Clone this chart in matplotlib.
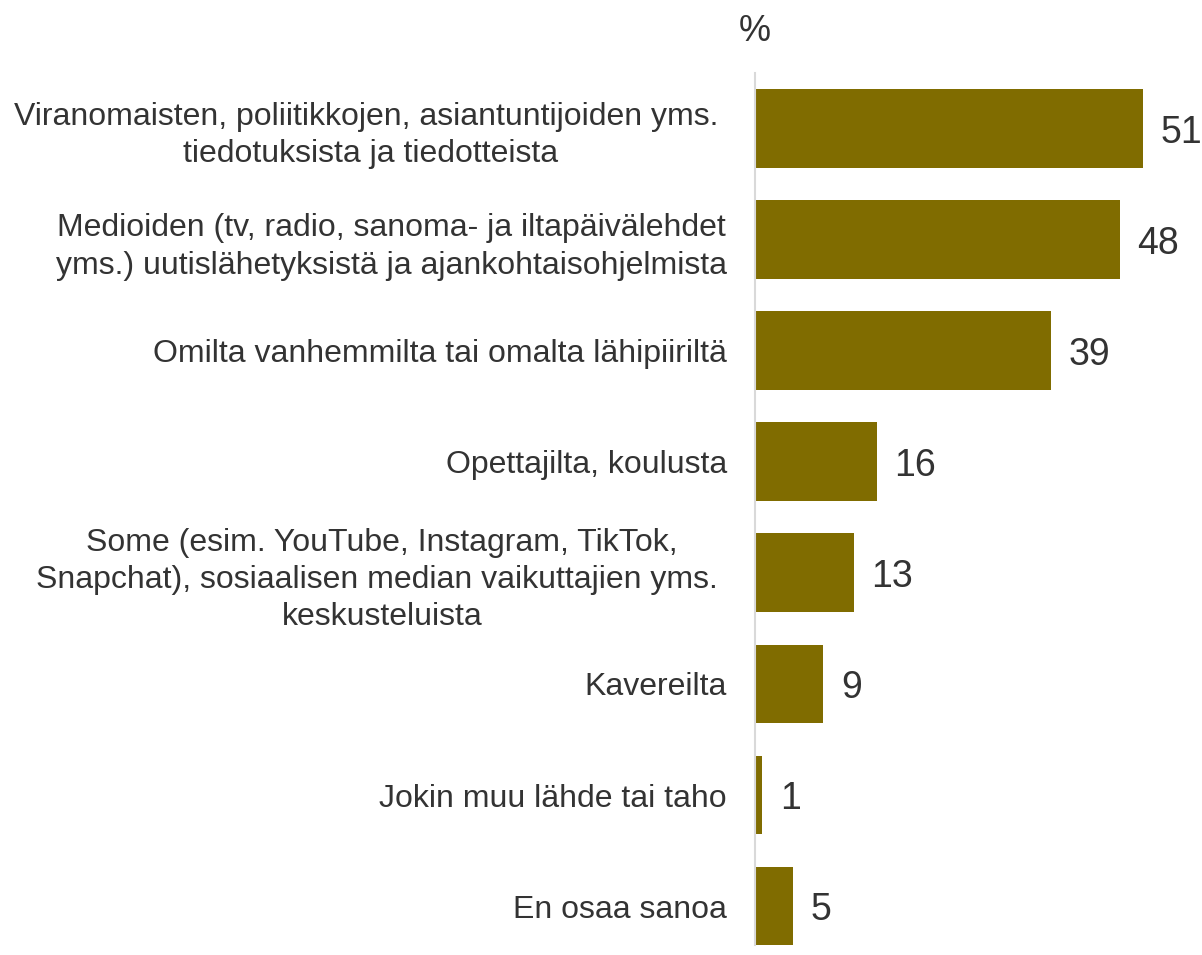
import matplotlib
matplotlib.use('Agg')
import matplotlib.pyplot as plt

# data
categories = [
    'Viranomaisten, poliitikkojen, asiantuntijoiden yms. \ntiedotuksista ja tiedotteista',
    'Medioiden (tv, radio, sanoma- ja iltapäivälehdet\nyms.) uutislähetyksistä ja ajankohtaisohjelmista',
    'Omilta vanhemmilta tai omalta lähipiiriltä',
    'Opettajilta, koulusta',
    'Some (esim. YouTube, Instagram, TikTok,\nSnapchat), sosiaalisen median vaikuttajien yms. \nkeskusteluista',
    'Kavereilta',
    'Jokin muu lähde tai taho',
    'En osaa sanoa',
]
values = [51, 48, 39, 16, 13, 9, 1, 5]

bar_color = '#806c00'
text_color = '#333333'

plt.rcParams['font.family'] = ['Liberation Sans', 'DejaVu Sans']

fig = plt.figure(figsize=(12.02, 9.55), dpi=100)
ax = fig.add_axes([0.628, 0.0105, 0.348, 0.913])

ypos = list(range(len(values)))
ax.barh(ypos, values, height=0.71, color=bar_color)

for y, v in zip(ypos, values):
    ax.text(v + 2.3, y, str(v), va='center_baseline', ha='left', fontsize=27, color=text_color)

ax.set_yticks(ypos)
ax.set_yticklabels(categories, fontsize=23, color=text_color)
for t in ax.get_yticklabels():
    t.set_multialignment('center')
    t.set_linespacing(1.32)
ax.tick_params(axis='y', length=0, pad=20)
ax.set_xticks([])
ax.set_xlim(0, 55)
ax.set_ylim(7.35, -0.5)

for side in ['top', 'right', 'bottom']:
    ax.spines[side].set_visible(False)
ax.spines['left'].set_color('#d9d9d9')
ax.spines['left'].set_linewidth(1.5)

ax.text(0, 1.048, '%', transform=ax.transAxes, ha='center', va='center',
        fontsize=26, color=text_color)

fig.savefig('out.png', dpi=100)
